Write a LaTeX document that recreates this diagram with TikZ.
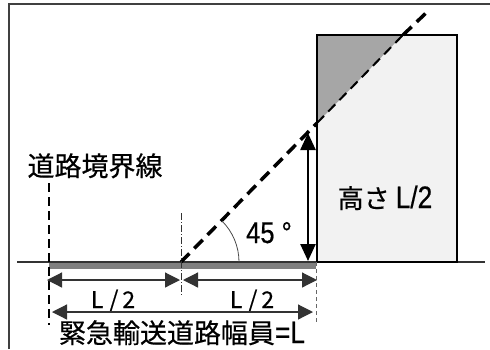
\documentclass[tikz,border=0pt]{standalone}
\usepackage{fontspec}
\setmainfont{Noto Sans CJK JP}[FakeBold=0.5]
\newfontfamily\latfont[FakeStretch=0.85, FakeBold=0.5]{Liberation Sans}
\usetikzlibrary{arrows.meta,calc}
\tikzset{
    frame/.style = {draw=black!75, line width=1.5pt},
    ground/.style = {draw=black!80, line width=1.2pt},
    road/.style = {fill=black!50},
    building/.style = {draw=black, line width=2.5pt},
    shade/.style = {fill=black!35},
    sightline/.style = {draw=black, line width=3.5pt, dash pattern=on 12pt off 7pt},
    hidden/.style = {draw=black, line width=2pt, dash pattern=on 10pt off 6pt},
    dimarrow/.style = {draw=black!80, line width=1.2pt,
        {Triangle[length=15pt,width=15pt]}-{Triangle[length=15pt,width=15pt]}},
    heightarrow/.style = {draw=black, line width=2.5pt,
        {Triangle[length=17pt,width=15pt]}-{Triangle[length=17pt,width=15pt]}},
    boundary/.style = {draw=black, line width=2pt, dash pattern=on 9pt off 5pt},
    edgeline/.style = {draw=black!60, line width=1pt, dash pattern=on 4pt off 3pt},
    centerline/.style = {draw=black!80, line width=0.8pt, dash pattern=on 7pt off 2pt on 1pt off 2pt},
    label/.style = {inner sep=0pt, anchor=base, font=\fontsize{27}{30}\selectfont},
    latlabel/.style = {inner sep=0pt, anchor=base, font=\latfont\fontsize{30}{30}\selectfont}
}

\begin{document}
\begin{tikzpicture}[x=1pt, y=-1pt]
    \useasboundingbox (0,0) rectangle (490,349);
    % outer frame and ground
    \draw[frame] (9,349) -- (9,4) -- (490,4);
    \coordinate (left) at (49,262);
    \coordinate (origin) at (181,262);
    \coordinate (right) at (316,262);
    \fill[road] (left) rectangle (316,269);
    \draw[ground] (17,262) -- (485,262);
    % building
    \coordinate (bTL) at (317,35);
    \coordinate (bBR) at (457,262);
    \coordinate (P) at (317,123);
    \coordinate (Q) at (403,35);
    \coordinate (E) at (426,13);
    \fill[black!5] (bTL) rectangle (bBR);
    \fill[shade] (bTL) -- (Q) -- (P) -- cycle;
    \draw[hidden] (P) -- (Q);
    \draw[building] (bTL) rectangle (bBR);
    \draw[sightline] (origin) -- (P);
    \draw[sightline] (Q) -- (E);
    % angle
    \draw[black!70, line width=0.8pt] (origin) ++(58,0) arc[start angle=0, end angle=-45, radius=58];
    \node[latlabel] (angle) at (269,243) {45 °};
    % height
    \coordinate (hBot) at (308,261);
    \coordinate (hTop) at (308,133);
    \draw[heightarrow] (hBot) -- (hTop);
    \node[label, font=\fontsize{26}{30}\selectfont] (height) at (385,208) {高さ\kern6pt{\latfont\fontsize{31}{31}\selectfont L/2}};
    % boundary lines
    \draw[boundary] (49,183) -- (49,325);
    \draw[edgeline] (right) -- (316,323);
    \draw[centerline] (181,213) -- (181,295);
    \node[label] (border) at (95,176) {道路境界線};
    % dimensions
    \foreach \a/\b/\c in {47/180/113, 183/317/252}{
        \coordinate (d1\a) at (\a,280);
        \coordinate (d2\a) at (\b,280);
        \draw[dimarrow] (d1\a) -- (d2\a);
        \node[latlabel, font=\fontsize{23}{23}\selectfont] at (\c,308) {L\kern6pt/\kern4pt2};
    }
    \coordinate (wL) at (52,312);
    \coordinate (wR) at (313,312);
    \draw[dimarrow] (wL) -- (wR);
    \node[label] (width) at (182,343) {緊急輸送道路幅員{\latfont\fontsize{31}{31}\selectfont =L}};
\end{tikzpicture}
\end{document}
